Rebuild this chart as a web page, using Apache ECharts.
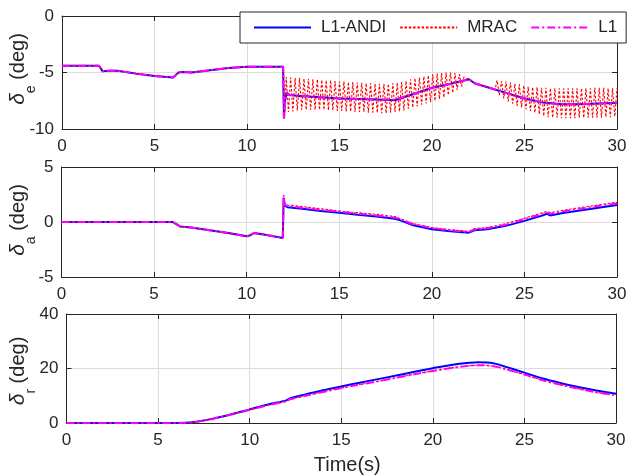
<!DOCTYPE html>
<html>
<head>
<meta charset="utf-8">
<script src="https://cdn.jsdelivr.net/npm/echarts@6/dist/echarts.min.js"></script>
<style>html,body{margin:0;padding:0;background:#fff;}#c{width:628px;height:476px;}</style>
</head>
<body>
<div id="c"></div>
<script>
// ---------- data ----------
var xTicks = [0, 5, 10, 15, 20, 25, 30];
var seriesNames = ['L1-ANDI', 'MRAC', 'L1'];

// Panel 1: elevator deflection δe (deg)
var eTime = [0, 2.0, 2.2, 2.5, 3, 4, 5, 6.0, 6.3, 6.5, 7, 8, 9, 10, 11, 11.95, 12.0, 12.05, 12.15, 12.3, 13, 14, 15, 16, 17, 18, 19, 20, 21, 22, 22.3, 23, 24, 25, 26, 27, 28, 29, 30];
var eAndi = [-4.4, -4.4, -4.9, -4.85, -4.85, -5.1, -5.3, -5.45, -5.0, -4.95, -5.0, -4.8, -4.6, -4.5, -4.5, -4.5, -9.0, -7.5, -6.8, -7.0, -7.1, -7.2, -7.3, -7.35, -7.4, -7.45, -6.9, -6.35, -6.0, -5.6, -5.95, -6.3, -6.8, -7.3, -7.65, -7.8, -7.8, -7.75, -7.7];
var eL1 = [-4.4, -4.4, -4.9, -4.85, -4.85, -5.1, -5.3, -5.45, -5.0, -4.95, -5.0, -4.8, -4.6, -4.5, -4.5, -4.5, -9.1, -7.4, -6.85, -7.0, -7.05, -7.2, -7.3, -7.35, -7.4, -7.4, -6.9, -6.35, -6.0, -5.6, -5.95, -6.3, -6.8, -7.3, -7.65, -7.8, -7.8, -7.75, -7.7];
var eMrac = [
 [0,-4.4],[2.0,-4.4],[2.2,-4.9],[2.5,-4.85],[3,-4.85],[4,-5.1],[5,-5.3],[6.0,-5.45],[6.3,-5.0],[6.5,-4.95],[7,-5.0],[8,-4.8],[9,-4.6],[10,-4.5],[11,-4.5],[11.97,-4.5],
 [12.03,-9.0],
 [12.12,-5.4],[12.24,-8.5],[12.36,-5.45],[12.48,-8.45],[12.60,-5.5],[12.72,-8.35],[12.84,-5.5],[12.96,-8.3],
 [13.08,-5.55],[13.20,-8.3],[13.32,-5.55],[13.44,-8.3],[13.56,-5.6],[13.68,-8.3],[13.80,-5.6],[13.92,-8.3],
 [14.04,-5.65],[14.16,-8.3],[14.28,-5.7],[14.40,-8.35],[14.52,-5.7],[14.64,-8.35],[14.76,-5.75],[14.88,-8.4],
 [15.00,-5.8],[15.12,-8.4],[15.24,-5.8],[15.36,-8.45],[15.48,-5.85],[15.60,-8.45],[15.72,-5.85],[15.84,-8.5],
 [15.96,-5.9],[16.08,-8.5],[16.20,-5.9],[16.32,-8.5],[16.44,-5.95],[16.56,-8.55],[16.68,-5.95],[16.80,-8.55],
 [16.92,-6.0],[17.04,-8.55],[17.16,-6.0],[17.28,-8.6],[17.40,-6.0],[17.52,-8.6],[17.64,-6.0],[17.76,-8.55],
 [17.88,-5.95],[18.00,-8.5],[18.12,-5.9],[18.24,-8.45],[18.36,-5.85],[18.48,-8.35],[18.60,-5.75],[18.72,-8.2],
 [18.84,-5.6],[18.96,-8.1],[19.08,-5.5],[19.20,-8.0],[19.32,-5.45],[19.44,-7.85],[19.56,-5.35],[19.68,-7.75],
 [19.80,-5.25],[19.92,-7.6],[20.04,-5.15],[20.16,-7.5],[20.28,-5.1],[20.40,-7.35],[20.52,-5.05],[20.64,-7.2],
 [20.76,-5.0],[20.88,-7.0],[21.00,-5.0],[21.12,-6.8],[21.24,-5.05],[21.36,-6.55],[21.48,-5.15],[21.60,-6.25],
 [21.72,-5.4],[21.84,-5.55],[22.0,-5.6],[22.3,-5.95],[23.0,-6.3],[23.4,-6.55],
 [23.52,-5.7],[23.64,-7.0],[23.76,-5.75],[23.88,-7.3],[24.00,-5.8],[24.12,-7.55],[24.24,-5.9],[24.36,-7.75],
 [24.48,-6.0],[24.60,-7.95],[24.72,-6.05],[24.84,-8.1],[24.96,-6.15],[25.08,-8.25],[25.20,-6.25],[25.32,-8.4],
 [25.44,-6.3],[25.56,-8.55],[25.68,-6.3],[25.80,-8.7],[25.92,-6.35],[26.04,-8.85],[26.16,-6.35],[26.28,-8.95],
 [26.40,-6.4],[26.52,-9.0],[26.64,-6.4],[26.76,-9.0],[26.88,-6.4],[27.00,-9.05],[27.12,-6.4],[27.24,-9.05],
 [27.36,-6.4],[27.48,-9.05],[27.60,-6.4],[27.72,-9.05],[27.84,-6.4],[27.96,-9.0],[28.08,-6.4],[28.20,-9.0],
 [28.32,-6.4],[28.44,-9.0],[28.56,-6.4],[28.68,-9.0],[28.80,-6.35],[28.92,-9.0],[29.04,-6.35],[29.16,-9.0],
 [29.28,-6.35],[29.40,-8.95],[29.52,-6.4],[29.64,-8.95],[29.76,-6.4],[29.88,-8.9],[30.00,-6.4]
];

// Panel 2: aileron deflection δa (deg)
var aTime = [0, 6.0, 6.2, 6.4, 7, 8, 9, 10, 10.2, 10.4, 11, 11.95, 12.0, 12.05, 12.2, 13, 14, 15, 16, 17, 18, 18.3, 19, 20, 21, 22, 22.3, 23, 24, 25, 26, 26.2, 26.4, 27, 28, 29, 30];
var aAndi = [0, 0, -0.2, -0.4, -0.5, -0.75, -1.0, -1.3, -1.2, -1.0, -1.15, -1.45, 2.2, 1.5, 1.35, 1.2, 1.0, 0.85, 0.65, 0.5, 0.3, 0.15, -0.3, -0.65, -0.85, -0.97, -0.75, -0.65, -0.35, 0.1, 0.6, 0.75, 0.6, 0.8, 1.05, 1.3, 1.55];
var aMrac = [0, 0, -0.2, -0.4, -0.5, -0.75, -1.0, -1.3, -1.2, -1.0, -1.15, -1.45, 2.3, 1.7, 1.55, 1.4, 1.2, 1.0, 0.85, 0.7, 0.5, 0.3, -0.15, -0.5, -0.7, -0.85, -0.6, -0.5, -0.15, 0.35, 0.85, 0.95, 0.85, 1.05, 1.3, 1.55, 1.8];
var aL1 = [0, 0, -0.2, -0.4, -0.5, -0.75, -1.0, -1.3, -1.2, -1.0, -1.15, -1.45, 2.45, 1.6, 1.45, 1.3, 1.1, 0.95, 0.75, 0.6, 0.4, 0.25, -0.2, -0.55, -0.75, -0.9, -0.68, -0.57, -0.25, 0.25, 0.75, 0.85, 0.75, 0.95, 1.2, 1.45, 1.7];

// Panel 3: rudder deflection δr (deg)
var rTime = [0, 6.0, 6.5, 7, 8, 9, 10, 11, 12, 12.2, 13, 14, 15, 16, 17, 18, 19, 20, 21, 22, 22.5, 23, 23.5, 24, 25, 26, 27, 28, 29, 30];
var rAndi = [0, 0, 0.05, 0.4, 1.6, 3.2, 5.0, 6.8, 8.3, 9.0, 10.4, 12.0, 13.4, 14.8, 16.1, 17.4, 18.8, 20.1, 21.3, 22.1, 22.3, 22.2, 21.6, 20.6, 18.5, 16.3, 14.6, 13.1, 11.8, 10.7];
var rMrac = [0, 0, 0.05, 0.35, 1.5, 3.1, 4.8, 6.5, 8.0, 8.7, 9.9, 11.4, 12.8, 14.1, 15.3, 16.6, 17.9, 19.1, 20.2, 21.0, 21.2, 21.1, 20.6, 19.7, 17.8, 15.7, 14.0, 12.5, 11.2, 10.1];
var rL1 = [0, 0, 0.05, 0.35, 1.5, 3.1, 4.8, 6.5, 8.0, 8.7, 9.9, 11.4, 12.8, 14.1, 15.3, 16.6, 17.9, 19.1, 20.2, 21.0, 21.2, 21.1, 20.6, 19.7, 17.8, 15.7, 14.0, 12.5, 11.2, 10.1];

// y-axis setup per panel
var yMin = [-10, -5, 0];
var yMax = [0, 5, 40];
var yInterval = [5, 5, 20];
var ySub = ['e', 'a', 'r'];
var yUnit = ' (deg)';
var xName = 'Time(s)';

// ---------- helpers ----------
function pairs(t, v) { return t.map(function (x, i) { return [x, v[i]]; }); }

var TXT = '#262626';
var FONT = 'Liberation Sans, Arial, Helvetica, sans-serif';
var grids = [
  { left: 62, top: 16, width: 555, height: 113, outerBoundsMode: 'none', containLabel: false },
  { left: 61.5, top: 167, width: 555.5, height: 110, outerBoundsMode: 'none', containLabel: false },
  { left: 66.5, top: 314, width: 549.5, height: 109, outerBoundsMode: 'none', containLabel: false }
];
var labelCenterY = [69, 220, 371];

var xAxes = [], yAxes = [];
for (var i = 0; i < 3; i++) {
  xAxes.push({
    type: 'value', gridIndex: i, min: 0, max: 30, interval: 5, position: 'bottom',
    axisLine: { onZero: false, lineStyle: { color: TXT, width: 1 } },
    axisTick: { inside: true, length: 5, lineStyle: { color: TXT } },
    axisLabel: { color: TXT, fontSize: 17, fontFamily: FONT, margin: 9 },
    splitLine: { show: true, lineStyle: { color: '#dcdcdc', width: 1 } },
    name: i === 2 ? xName : '', nameLocation: 'middle', nameGap: 32,
    nameTextStyle: { color: TXT, fontSize: 20, fontFamily: FONT, padding: [0, 0, 0, 12] }
  });
  yAxes.push({
    type: 'value', gridIndex: i, min: yMin[i], max: yMax[i], interval: yInterval[i], position: 'left',
    axisLine: { show: true, onZero: false, lineStyle: { color: TXT, width: 1 } },
    axisTick: { show: true, inside: true, length: 5, lineStyle: { color: TXT } },
    axisLabel: { color: TXT, fontSize: 17, fontFamily: FONT, margin: 8 },
    splitLine: { show: true, lineStyle: { color: '#dcdcdc', width: 1 } }
  });
}
for (var j = 0; j < 3; j++) {
  xAxes.push({
    type: 'value', gridIndex: j, min: 0, max: 30, interval: 5, position: 'top',
    axisLine: { onZero: false, lineStyle: { color: TXT, width: 1 } },
    axisTick: { inside: true, length: 5, lineStyle: { color: TXT } },
    axisLabel: { show: false }, splitLine: { show: false }
  });
  yAxes.push({
    type: 'value', gridIndex: j, min: yMin[j], max: yMax[j], interval: yInterval[j], position: 'right',
    axisLine: { show: true, onZero: false, lineStyle: { color: TXT, width: 1 } },
    axisTick: { show: true, inside: true, length: 5, lineStyle: { color: TXT } },
    axisLabel: { show: false }, splitLine: { show: false }
  });
}

// rotated y labels with subscript
var graphics = [];
for (var k = 0; k < 3; k++) {
  graphics.push({
    type: 'text', x: 18, y: labelCenterY[k], rotation: Math.PI / 2, silent: true,
    style: {
      text: '{d|δ}{s|' + ySub[k] + '}{n|' + yUnit + '}',
      align: 'center', verticalAlign: 'middle',
      rich: {
        d: { fontSize: 21, fontStyle: 'italic', fill: TXT, fontFamily: FONT, lineHeight: 40, verticalAlign: 'middle' },
        s: { fontSize: 14, fill: TXT, fontFamily: FONT, lineHeight: 16, verticalAlign: 'bottom' },
        n: { fontSize: 20, fill: TXT, fontFamily: FONT, lineHeight: 40, verticalAlign: 'middle' }
      }
    }
  });
}

function mk(name, data, idx, kind, smooth) {
  var ls;
  if (kind === 0) ls = { color: '#0000ff', width: 2, type: 'solid' };
  else if (kind === 1) ls = { color: '#ff0000', width: 1.1, type: [2.5, 1.8] };
  else ls = { color: '#ff00ff', width: 2, type: [8, 3, 2, 3] };
  return {
    name: name, type: 'line', xAxisIndex: idx, yAxisIndex: idx, data: data,
    symbol: 'none', showSymbol: false, smooth: smooth || false, animation: false,
    lineStyle: ls, itemStyle: { color: ls.color }, z: 2 + kind
  };
}

var series = [
  mk(seriesNames[0], pairs(eTime, eAndi), 0, 0),
  mk(seriesNames[1], eMrac, 0, 1),
  mk(seriesNames[2], pairs(eTime, eL1), 0, 2),
  mk(seriesNames[0], pairs(aTime, aAndi), 1, 0),
  mk(seriesNames[1], pairs(aTime, aMrac), 1, 1),
  mk(seriesNames[2], pairs(aTime, aL1), 1, 2),
  mk(seriesNames[0], pairs(rTime, rAndi), 2, 0, 0.3),
  mk(seriesNames[1], pairs(rTime, rMrac), 2, 1, 0.3),
  mk(seriesNames[2], pairs(rTime, rL1), 2, 2, 0.3)
];

var chart = echarts.init(document.getElementById('c'), null, { renderer: 'canvas' });
chart.setOption({
  animation: false,
  backgroundColor: '#ffffff',
  grid: grids,
  xAxis: xAxes,
  yAxis: yAxes,
  graphic: graphics,
  legend: {
    data: seriesNames, left: 240, top: 12, orient: 'horizontal',
    itemWidth: 57, itemHeight: 14, itemGap: 13,
    padding: [7, 9, 7, 13],
    backgroundColor: '#ffffff', borderColor: TXT, borderWidth: 1,
    itemStyle: { opacity: 0 },
    textStyle: { color: TXT, fontSize: 17, fontFamily: FONT, padding: [0, 0, 0, 5] },
    selectedMode: false
  },
  series: series
});
</script>
</body>
</html>
